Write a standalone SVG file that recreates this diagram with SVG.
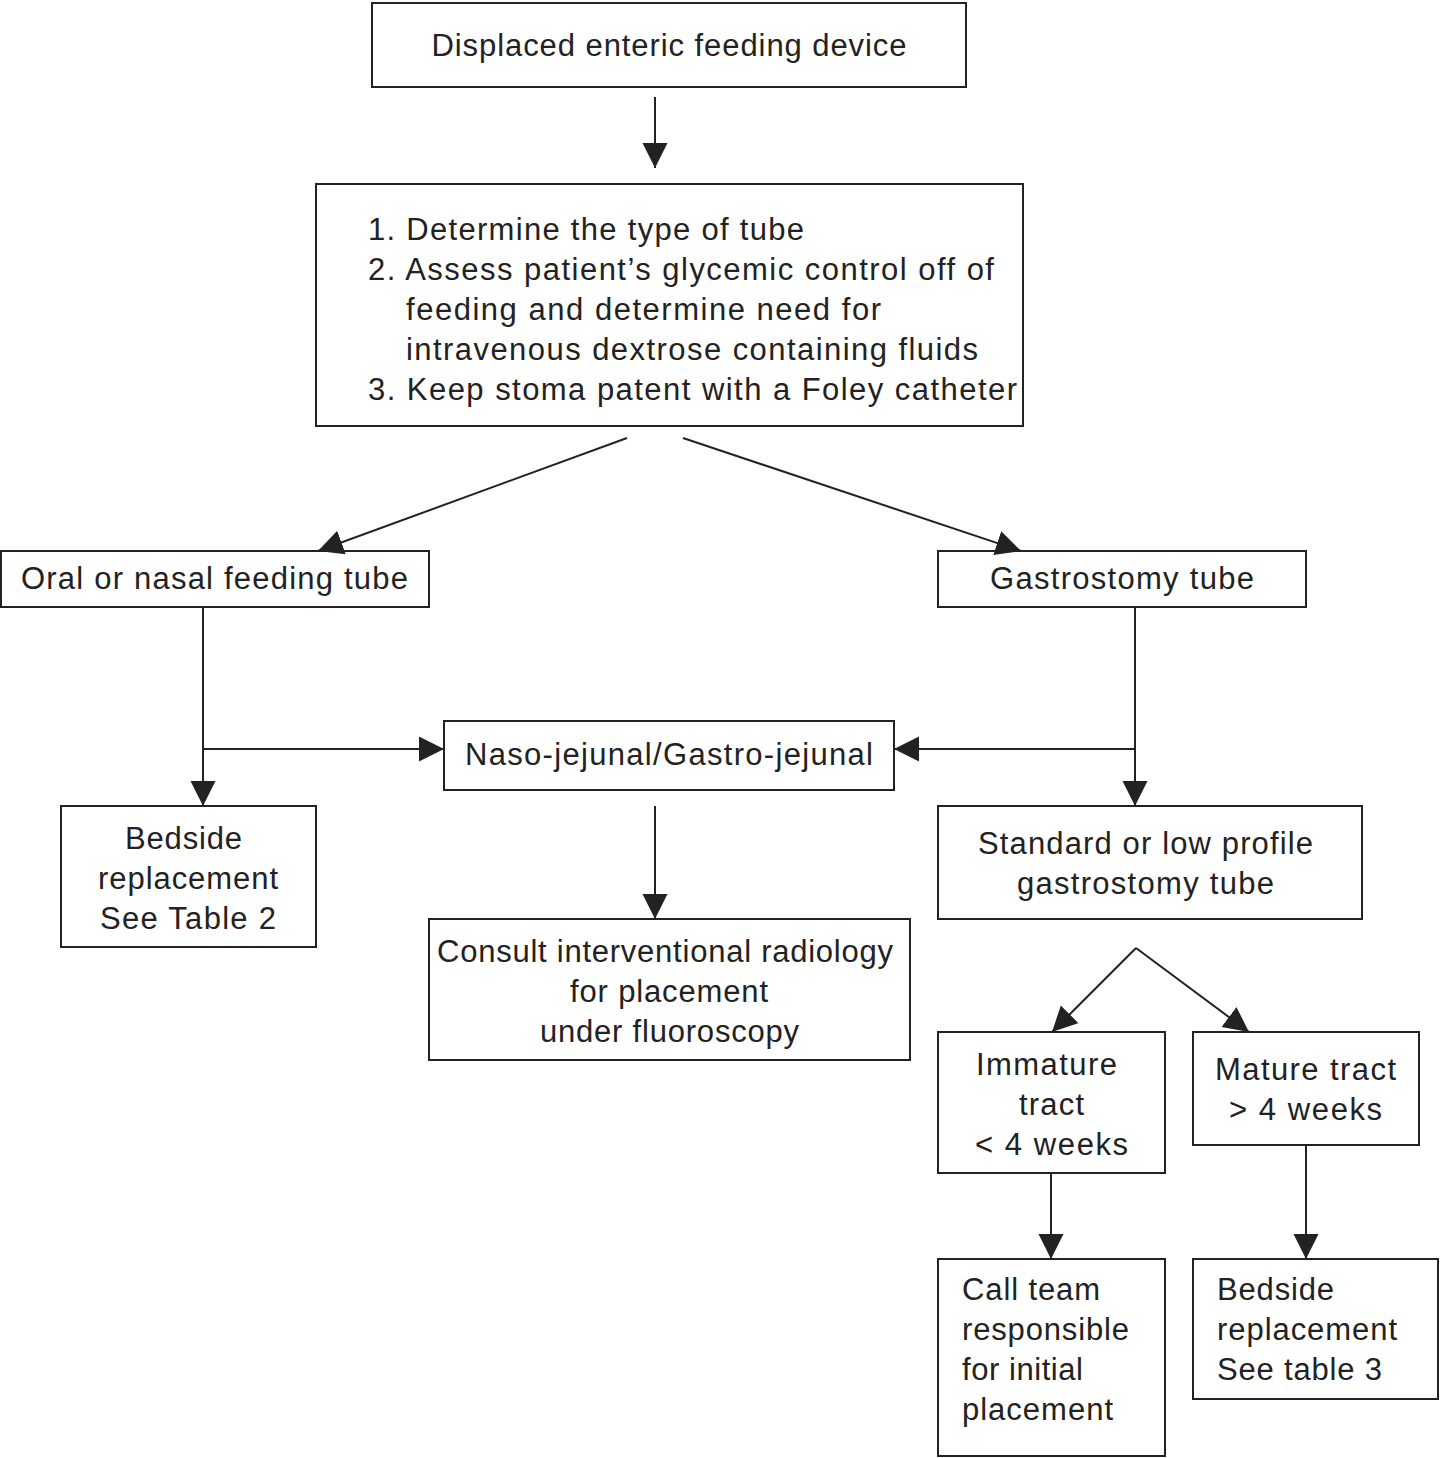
<svg xmlns="http://www.w3.org/2000/svg" width="1442" height="1458" viewBox="0 0 1442 1458">
<style>
  .box { fill: #fff; stroke: #222; stroke-width: 2; }
  .t { font-family: "Liberation Sans", Arial, sans-serif; font-size: 31px; fill: #222; }
  .c { text-anchor: middle; }
  .conn { fill: none; stroke: #222; stroke-width: 2; }
</style>
<defs>
  <marker id="ah" markerUnits="userSpaceOnUse" markerWidth="26" markerHeight="26" refX="25" refY="12.5" orient="auto" viewBox="0 0 26 26">
    <path d="M0,0 L25,12.5 L0,25 z" fill="#222"/>
  </marker>
</defs>
<rect width="1442" height="1458" fill="#fff"/>

<g id="n1">
  <rect class="box" x="372" y="3" width="594" height="84"/>
  <text class="t c" x="669" y="56" textLength="475" lengthAdjust="spacing">Displaced enteric feeding device</text>
</g>
<g id="n2">
  <rect class="box" x="316" y="184" width="707" height="242"/>
  <text class="t" x="368" y="240" textLength="436" lengthAdjust="spacing">1. Determine the type of tube</text>
  <text class="t" x="368" y="280" textLength="626" lengthAdjust="spacing">2. Assess patient’s glycemic control off of</text>
  <text class="t" x="406" y="320" textLength="475" lengthAdjust="spacing">feeding and determine need for</text>
  <text class="t" x="406" y="360" textLength="572" lengthAdjust="spacing">intravenous dextrose containing fluids</text>
  <text class="t" x="368" y="400" textLength="649" lengthAdjust="spacing">3. Keep stoma patent with a Foley catheter</text>
</g>
<g id="n3">
  <rect class="box" x="1" y="551" width="428" height="56"/>
  <text class="t" x="21" y="589" textLength="387" lengthAdjust="spacing">Oral or nasal feeding tube</text>
</g>
<g id="n4">
  <rect class="box" x="938" y="551" width="368" height="56"/>
  <text class="t" x="990" y="589" textLength="264" lengthAdjust="spacing">Gastrostomy tube</text>
</g>
<g id="n5">
  <rect class="box" x="444" y="721" width="450" height="69"/>
  <text class="t" x="465" y="765" textLength="408" lengthAdjust="spacing">Naso-jejunal/Gastro-jejunal</text>
</g>
<g id="n6">
  <rect class="box" x="61" y="806" width="255" height="141"/>
  <text class="t" x="125" y="849" textLength="117" lengthAdjust="spacing">Bedside</text>
  <text class="t" x="98" y="889" textLength="180" lengthAdjust="spacing">replacement</text>
  <text class="t" x="100" y="929" textLength="176" lengthAdjust="spacing">See Table 2</text>
</g>
<g id="n7">
  <rect class="box" x="429" y="919" width="481" height="141"/>
  <text class="t" x="437" y="962" textLength="456" lengthAdjust="spacing">Consult interventional radiology</text>
  <text class="t" x="570" y="1002" textLength="198" lengthAdjust="spacing">for placement</text>
  <text class="t" x="540" y="1042" textLength="259" lengthAdjust="spacing">under fluoroscopy</text>
</g>
<g id="n8">
  <rect class="box" x="938" y="806" width="424" height="113"/>
  <text class="t" x="978" y="854" textLength="335" lengthAdjust="spacing">Standard or low profile</text>
  <text class="t" x="1017" y="894" textLength="257" lengthAdjust="spacing">gastrostomy tube</text>
</g>
<g id="n9">
  <rect class="box" x="938" y="1032" width="227" height="141"/>
  <text class="t" x="976" y="1075" textLength="141" lengthAdjust="spacing">Immature</text>
  <text class="t" x="1019" y="1115" textLength="65" lengthAdjust="spacing">tract</text>
  <text class="t" x="975" y="1155" textLength="153" lengthAdjust="spacing">&lt; 4 weeks</text>
</g>
<g id="n10">
  <rect class="box" x="1193" y="1032" width="226" height="113"/>
  <text class="t" x="1215" y="1080" textLength="181" lengthAdjust="spacing">Mature tract</text>
  <text class="t" x="1229" y="1120" textLength="153" lengthAdjust="spacing">&gt; 4 weeks</text>
</g>
<g id="n11">
  <rect class="box" x="938" y="1259" width="227" height="197"/>
  <text class="t" x="962" y="1300" textLength="138" lengthAdjust="spacing">Call team</text>
  <text class="t" x="962" y="1340" textLength="167" lengthAdjust="spacing">responsible</text>
  <text class="t" x="962" y="1380" textLength="121" lengthAdjust="spacing">for initial</text>
  <text class="t" x="962" y="1420" textLength="151" lengthAdjust="spacing">placement</text>
</g>
<g id="n12">
  <rect class="box" x="1193" y="1259" width="245" height="140"/>
  <text class="t" x="1217" y="1300" textLength="117" lengthAdjust="spacing">Bedside</text>
  <text class="t" x="1217" y="1340" textLength="180" lengthAdjust="spacing">replacement</text>
  <text class="t" x="1217" y="1380" textLength="165" lengthAdjust="spacing">See table 3</text>
</g>

<g id="connectors">
  <line class="conn" x1="655" y1="97" x2="655" y2="168" marker-end="url(#ah)"/>
  <line class="conn" x1="627" y1="438" x2="318" y2="551" marker-end="url(#ah)"/>
  <line class="conn" x1="683" y1="438" x2="1021" y2="551" marker-end="url(#ah)"/>
  <line class="conn" x1="203" y1="607" x2="203" y2="806" marker-end="url(#ah)"/>
  <line class="conn" x1="203" y1="749" x2="444" y2="749" marker-end="url(#ah)"/>
  <line class="conn" x1="1135" y1="607" x2="1135" y2="806" marker-end="url(#ah)"/>
  <line class="conn" x1="1135" y1="749" x2="894" y2="749" marker-end="url(#ah)"/>
  <line class="conn" x1="655" y1="806" x2="655" y2="919" marker-end="url(#ah)"/>
  <line class="conn" x1="1136" y1="948" x2="1052" y2="1032" marker-end="url(#ah)"/>
  <line class="conn" x1="1136" y1="948" x2="1249" y2="1032" marker-end="url(#ah)"/>
  <line class="conn" x1="1051" y1="1173" x2="1051" y2="1259" marker-end="url(#ah)"/>
  <line class="conn" x1="1306" y1="1145" x2="1306" y2="1259" marker-end="url(#ah)"/>
</g>
</svg>
